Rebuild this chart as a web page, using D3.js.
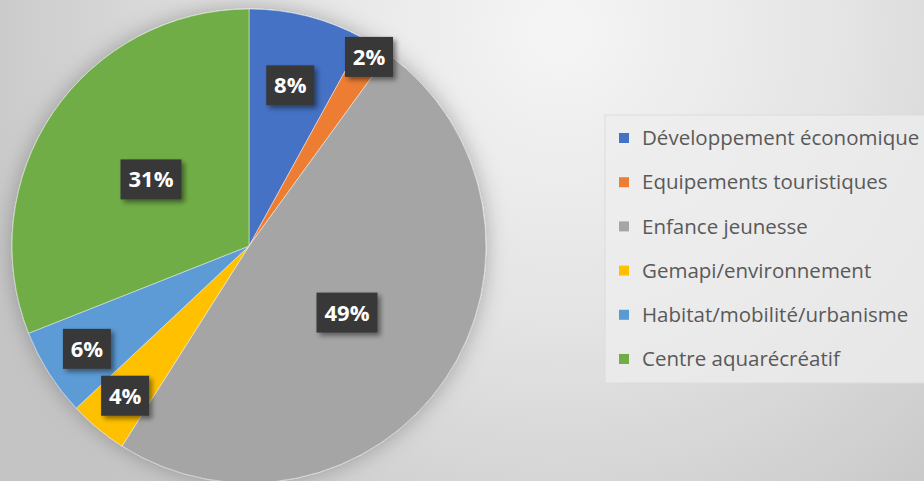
<!DOCTYPE html>
<html>
<head>
<meta charset="utf-8">
<script src="https://cdn.jsdelivr.net/npm/d3@7"></script>
<style>
  html, body { margin: 0; padding: 0; overflow: hidden; }
  svg { display: block; }
</style>
</head>
<body>
<div class="chart"></div>
<script>
// categories and shares (%)
const categories = [
    "Développement économique",
    "Equipements touristiques",
    "Enfance jeunesse",
    "Gemapi/environnement",
    "Habitat/mobilité/urbanisme",
    "Centre aquarécréatif"
];
const values = [8, 2, 49, 4, 6, 31];
const labels = ["8%", "2%", "49%", "4%", "6%", "31%"];
const colors = ["#4472C4", "#ED7D31", "#A5A5A5", "#FFC000", "#5B9BD5", "#70AD47"];

const W = 924;
const H = 481;
const cx = 249;
const cy = 246;
const radius = 237;

// where each label sits, as a fraction of the radius (excel "best fit")
const labelPos = [0.70, 0.945, 0.5, 0.82, 0.81, 0.5];

const data = categories.map((c, i) => ({ name: c, value: values[i], label: labels[i], color: colors[i] }));

const svg = d3.select(".chart")
    .append("svg")
    .attr("width", W)
    .attr("height", H);

const defs = svg.append("defs");

const bg = defs.append("radialGradient")
    .attr("id", "bg")
    .attr("gradientUnits", "userSpaceOnUse")
    .attr("cx", 560).attr("cy", 30).attr("r", 640);
bg.append("stop").attr("offset", "0%").attr("stop-color", "#f5f5f5");
bg.append("stop").attr("offset", "45%").attr("stop-color", "#e4e4e4");
bg.append("stop").attr("offset", "100%").attr("stop-color", "#c4c4c4");

const pieShadow = defs.append("filter")
    .attr("id", "pieShadow")
    .attr("x", "-20%").attr("y", "-20%").attr("width", "140%").attr("height", "140%");
pieShadow.append("feDropShadow")
    .attr("dx", 0).attr("dy", 0)
    .attr("stdDeviation", 11)
    .attr("flood-color", "#000")
    .attr("flood-opacity", 0.28);

const boxShadow = defs.append("filter")
    .attr("id", "boxShadow")
    .attr("x", "-30%").attr("y", "-30%").attr("width", "170%").attr("height", "170%");
boxShadow.append("feDropShadow")
    .attr("dx", 3).attr("dy", 3)
    .attr("stdDeviation", 2.5)
    .attr("flood-color", "#000")
    .attr("flood-opacity", 0.45);

svg.append("rect")
    .attr("width", W)
    .attr("height", H)
    .attr("fill", "url(#bg)");

const pie = d3.pie()
    .value(d => d.value)
    .sort(null);

const arc = d3.arc()
    .innerRadius(0)
    .outerRadius(radius);

const arcs = pie(data);

const g = svg.append("g")
    .attr("transform", `translate(${cx}, ${cy})`);

g.append("g")
    .attr("filter", "url(#pieShadow)")
    .selectAll("path")
    .data(arcs)
    .enter()
    .append("path")
    .attr("d", arc)
    .attr("fill", d => d.data.color)
    .attr("stroke", "rgba(255,255,255,0.45)")
    .attr("stroke-width", 1);

// data labels: dark boxes with white bold text
const boxW = d => d.data.label.length * 13 + 22;

const lab = g.selectAll(".lab")
    .data(arcs)
    .enter()
    .append("g")
    .attr("class", "lab")
    .attr("transform", (d, i) => {
        const r = radius * labelPos[i];
        const a = (d.startAngle + d.endAngle) / 2;
        return `translate(${r * Math.sin(a)}, ${-r * Math.cos(a)})`;
    });

lab.append("rect")
    .attr("x", d => -boxW(d) / 2)
    .attr("y", -20)
    .attr("width", boxW)
    .attr("height", 40)
    .attr("fill", "#383838")
    .attr("filter", "url(#boxShadow)");

lab.append("text")
    .text(d => d.data.label)
    .attr("text-anchor", "middle")
    .attr("dy", "0.36em")
    .style("font-family", "'Open Sans', 'DejaVu Sans', sans-serif")
    .style("font-weight", "bold")
    .style("font-size", "22px")
    .style("fill", "#ffffff");

// legend
const legend = svg.append("g");

legend.append("rect")
    .attr("x", 605)
    .attr("y", 115)
    .attr("width", 330)
    .attr("height", 268)
    .attr("fill", "#eeeeee")
    .attr("fill-opacity", 0.75)
    .attr("stroke", "#dcdcdc")
    .attr("stroke-width", 1);

const yLeg = d3.scalePoint()
    .domain(categories)
    .range([138, 359]);

const item = legend.selectAll(".item")
    .data(data)
    .enter()
    .append("g")
    .attr("class", "item")
    .attr("transform", d => `translate(0, ${yLeg(d.name)})`);

item.append("rect")
    .attr("x", 619)
    .attr("y", -5)
    .attr("width", 10)
    .attr("height", 10)
    .attr("fill", d => d.color);

item.append("text")
    .text(d => d.name)
    .attr("x", 642)
    .attr("dy", "0.35em")
    .style("font-family", "'Open Sans', sans-serif")
    .style("font-size", "20.5px")
    .style("fill", "#595959");
</script>
</body>
</html>
